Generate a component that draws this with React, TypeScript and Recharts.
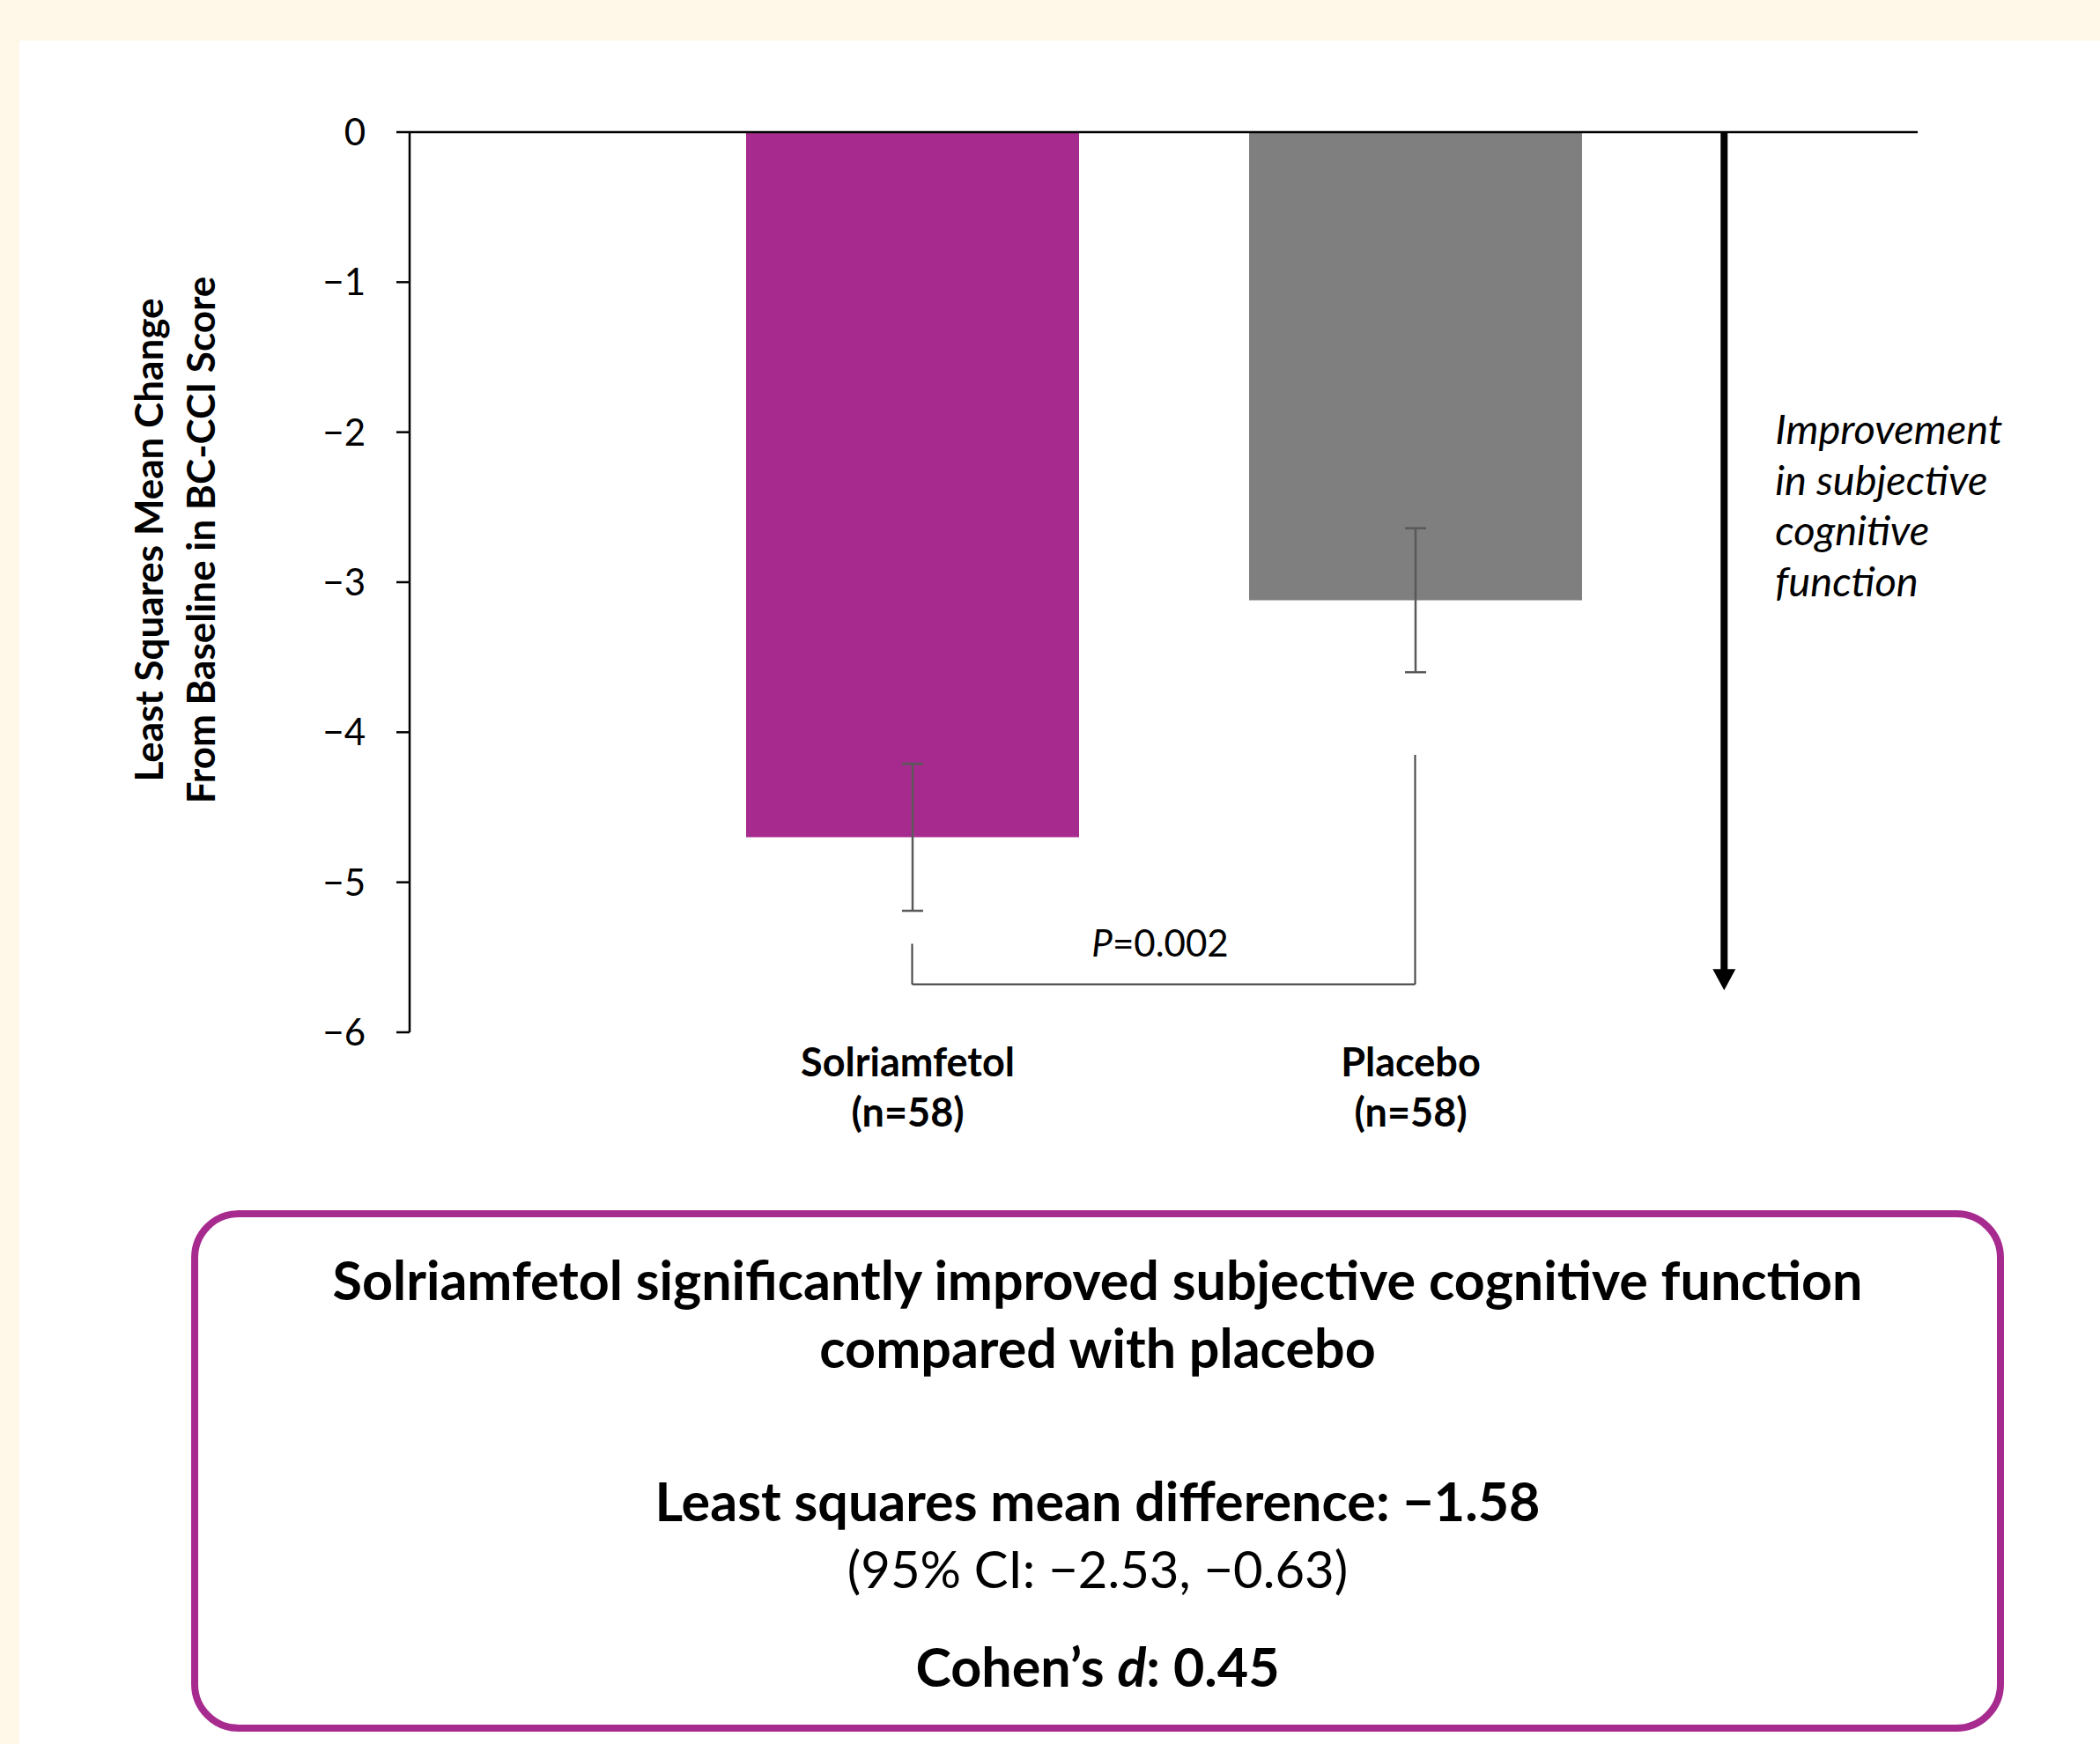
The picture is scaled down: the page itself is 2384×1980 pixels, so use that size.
import React from 'react';
import {
  BarChart, Bar, XAxis, YAxis, Cell, ErrorBar, ReferenceLine, Label,
} from 'recharts';

const groups = ['Solriamfetol', 'Placebo'];
const groupSizes = ['(n=58)', '(n=58)'];
const lsMeanChange = [-4.7, -3.12];
const ciHalfWidth = [0.49, 0.48];
const barColors = ['#A72B8E', '#7F7F7F'];
const yTicks = [0, -1, -2, -3, -4, -5, -6];

// p-value bracket (y values)
const bracketLeftTop = -5.41;
const bracketRightTop = -4.15;
const bracketBottom = -5.68;
const pValue = '0.002';

// improvement arrow, placed on a hidden 0..3 axis where the groups sit at 1 and 2
const groupPos = [1, 2];
const arrowPos = 2.615;
const arrowEnd = -5.72;
const arrowText = ['Improvement', 'in subjective', 'cognitive', 'function'];

const FONT = 'Lato, "Open Sans", sans-serif';
const PURPLE = '#A72B8E';

const data = groups.map((name, i) => ({
  name,
  pos: groupPos[i],
  value: lsMeanChange[i],
  err: ciHalfWidth[i],
}));

const fmt = (v: number) => (v < 0 ? `\u2212${Math.abs(v)}` : `${v}`);

function GroupTick(props: any) {
  const { x, y, payload } = props;
  const i = groups.indexOf(payload.value);
  return (
    <g fontFamily={FONT} fontWeight={700} fontSize={45} fill="#000">
      <text x={x - 5} y={y + 50} textAnchor="middle">{payload.value}</text>
      <text x={x - 5} y={y + 107} textAnchor="middle">{groupSizes[i]}</text>
    </g>
  );
}

function YTitle(props: any) {
  const vb = props.viewBox;
  const cy = vb.y + vb.height / 2 - 48;
  const x1 = vb.x + 185;
  const x2 = vb.x + 244;
  return (
    <g fontFamily={FONT} fontWeight={700} fontSize={44} fill="#000">
      <text x={x1} y={cy} textAnchor="middle" transform={`rotate(-90, ${x1}, ${cy})`}>
        Least Squares Mean Change
      </text>
      <text x={x2} y={cy} textAnchor="middle" transform={`rotate(-90, ${x2}, ${cy})`}>
        From Baseline in BC-CCI Score
      </text>
    </g>
  );
}

function PLabel(props: any) {
  const vb = props.viewBox;
  const cx = vb.x + vb.width / 2;
  return (
    <text x={cx - 4} y={vb.y - 31} textAnchor="middle" fontFamily={FONT} fontSize={42} fill="#000">
      <tspan fontStyle="italic">P</tspan>
      <tspan>={pValue}</tspan>
    </text>
  );
}

function ArrowShape(props: any) {
  const { x1, y1, x2, y2 } = props;
  const head = 24;
  const half = 13;
  return (
    <g>
      <line x1={x1} y1={y1} x2={x2} y2={y2 - head + 2} stroke="#000" strokeWidth={8} />
      <polygon points={`${x2 - half},${y2 - head} ${x2 + half},${y2 - head} ${x2},${y2}`} fill="#000" />
      <g fontFamily={FONT} fontStyle="italic" fontSize={47} fill="#000">
        {arrowText.map((t, i) => (
          <text key={t} x={x1 + 58} y={y1 + 354 + i * 57.5}>{t}</text>
        ))}
      </g>
    </g>
  );
}

export default function App() {
  return (
    <div style={{ position: 'relative', width: 2384, height: 1980, background: '#FFF7E8', overflow: 'hidden' }}>
      <style>{'body{margin:0}'}</style>
      <div style={{ position: 'absolute', left: 22, top: 46, right: 0, bottom: 0, background: '#fff' }} />
      <div style={{ position: 'absolute', left: 0, top: 0 }}>
        <BarChart
          width={2384}
          height={1330}
          data={data}
          margin={{ top: 150, right: 207, left: 0, bottom: 8 }}
        >
          <XAxis
            dataKey="name"
            axisLine={false}
            tickLine={false}
            tickSize={0}
            tickMargin={0}
            height={150}
            padding={{ left: 285, right: 285 }}
            tick={<GroupTick />}
            interval={0}
          />
          <XAxis
            xAxisId="pos"
            dataKey="pos"
            type="number"
            domain={[0, 3]}
            allowDataOverflow
            hide
          />
          <YAxis
            width={465}
            domain={[-6, 0]}
            ticks={yTicks}
            interval={0}
            tickFormatter={fmt}
            tickSize={15}
            tickMargin={35}
            tick={{ fontFamily: FONT, fontSize: 42, fill: '#000' }}
            axisLine={{ stroke: '#000', strokeWidth: 2.5 }}
            tickLine={{ stroke: '#000', strokeWidth: 2.5 }}
          >
            <Label content={<YTitle />} />
          </YAxis>
          <Bar dataKey="value" barSize={378} isAnimationActive={false}>
            {data.map((d, i) => (
              <Cell key={d.name} fill={barColors[i]} />
            ))}
            <ErrorBar dataKey="err" width={12} stroke="#595959" strokeWidth={2.5} direction="y" />
          </Bar>
          <ReferenceLine y={0} stroke="#000" strokeWidth={2.5} />
          <ReferenceLine
            segment={[{ x: groups[0], y: bracketLeftTop }, { x: groups[0], y: bracketBottom }]}
            stroke="#404040"
            strokeWidth={2}
          />
          <ReferenceLine
            segment={[{ x: groups[1], y: bracketRightTop }, { x: groups[1], y: bracketBottom }]}
            stroke="#404040"
            strokeWidth={2}
          />
          <ReferenceLine
            segment={[{ x: groups[0], y: bracketBottom }, { x: groups[1], y: bracketBottom }]}
            stroke="#404040"
            strokeWidth={2}
          >
            <Label content={<PLabel />} />
          </ReferenceLine>
          <ReferenceLine
            xAxisId="pos"
            ifOverflow="visible"
            segment={[{ x: arrowPos, y: 0 }, { x: arrowPos, y: arrowEnd }]}
            shape={(p: any) => <ArrowShape {...p} />}
          />
        </BarChart>
      </div>
      <svg width={2384} height={1980} style={{ position: 'absolute', left: 0, top: 0 }}>
        <rect x={221} y={1378} width={2050} height={584} rx={50} ry={50} fill="none" stroke={PURPLE} strokeWidth={8} />
        <g fontFamily={FONT} fill="#000" textAnchor="middle">
          <text x={1246} y={1476} fontSize={61} fontWeight={700}>
            Solriamfetol significantly improved subjective cognitive function
          </text>
          <text x={1246} y={1553} fontSize={61} fontWeight={700}>compared with placebo</text>
          <text x={1246} y={1727} fontSize={61} fontWeight={700}>
            Least squares mean difference: {'\u2212'}1.58
          </text>
          <text x={1246} y={1803} fontSize={58}>(95% CI: {'\u2212'}2.53, {'\u2212'}0.63)</text>
          <text x={1246} y={1915} fontSize={61} fontWeight={700}>
            <tspan>Cohen{'\u2019'}s </tspan>
            <tspan fontStyle="italic">d</tspan>
            <tspan>: 0.45</tspan>
          </text>
        </g>
      </svg>
    </div>
  );
}
